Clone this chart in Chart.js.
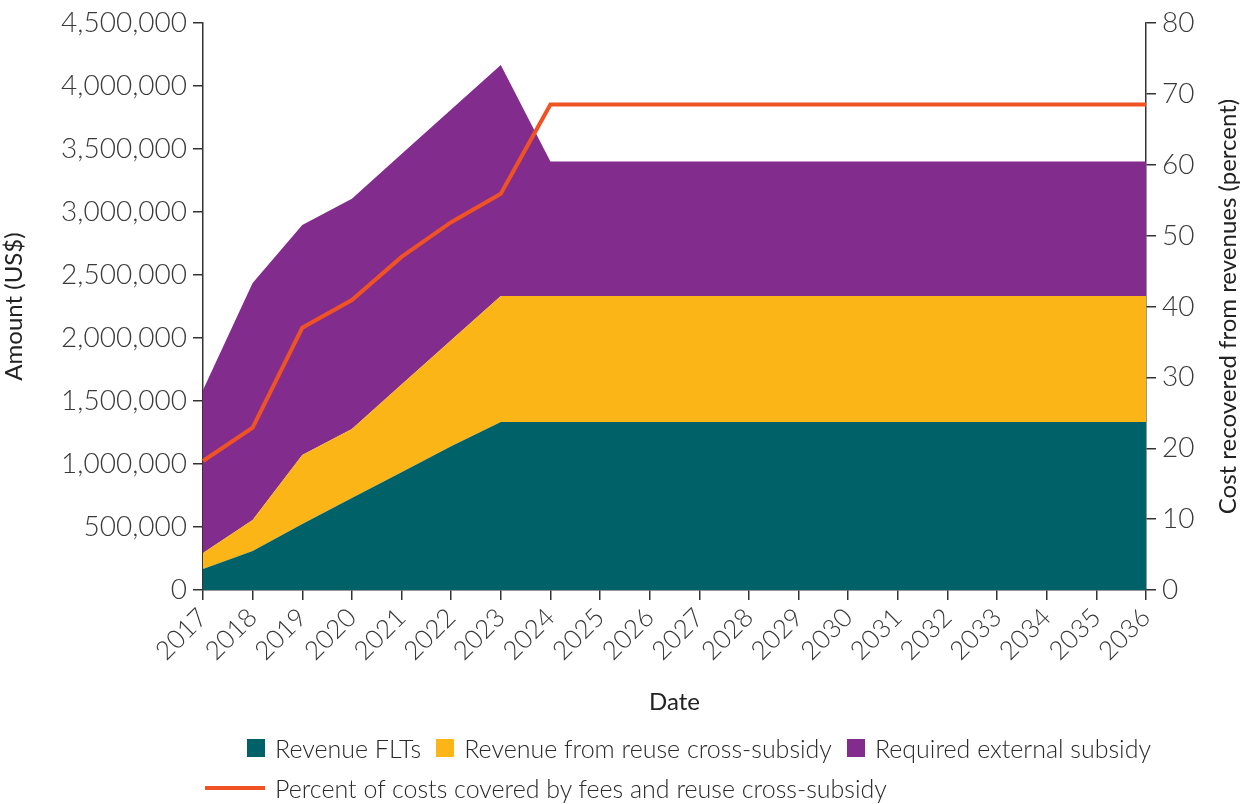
<!DOCTYPE html>
<html>
<head>
<meta charset="utf-8">
<script src="https://cdn.jsdelivr.net/npm/chart.js@4"></script>
<style>
  html, body { margin: 0; padding: 0; background: #fff; }
  #wrap { position: relative; width: 1246px; height: 804px; }
  #legend { position: absolute; left: 0; top: 725px; width: 1246px; font-family: Lato, sans-serif; font-weight: 300; font-size: 25px; color: #2a2a2a; }
  .row { position: absolute; display: flex; align-items: center; white-space: nowrap; }
  .item { display: flex; align-items: center; margin-right: 15px; }
  .box { width: 18px; height: 18px; margin-right: 10px; }
  .line { width: 60px; height: 4px; margin-right: 10px; }
</style>
</head>
<body>
<div id="wrap">
  <canvas id="chart" width="1246" height="804"></canvas>
  <div id="legend"></div>
</div>
<script>
// data
var years = ['2017', '2018', '2019', '2020', '2021', '2022', '2023', '2024', '2025', '2026',
             '2027', '2028', '2029', '2030', '2031', '2032', '2033', '2034', '2035', '2036'];
var revenueFLTs = [167000, 310000, 524000, 730000, 935000, 1140000, 1333000, 1333000, 1333000, 1333000,
                   1333000, 1333000, 1333000, 1333000, 1333000, 1333000, 1333000, 1333000, 1333000, 1333000];
var revenueReuse = [127000, 246000, 547000, 548000, 695000, 842000, 1000000, 1000000, 1000000, 1000000,
                    1000000, 1000000, 1000000, 1000000, 1000000, 1000000, 1000000, 1000000, 1000000, 1000000];
var externalSubsidy = [1293000, 1881000, 1826000, 1827000, 1830000, 1831000, 1834000, 1067000, 1067000, 1067000,
                       1067000, 1067000, 1067000, 1067000, 1067000, 1067000, 1067000, 1067000, 1067000, 1067000];
var percentCovered = [18.2, 22.9, 37.0, 40.9, 47.0, 51.9, 55.9, 68.5, 68.5, 68.5,
                      68.5, 68.5, 68.5, 68.5, 68.5, 68.5, 68.5, 68.5, 68.5, 68.5];
var amountTicks = [0, 500000, 1000000, 1500000, 2000000, 2500000, 3000000, 3500000, 4000000, 4500000];
var percentTicks = [0, 10, 20, 30, 40, 50, 60, 70, 80];

var seriesNames = ['Revenue FLTs', 'Revenue from reuse cross-subsidy', 'Required external subsidy',
                   'Percent of costs covered by fees and reuse cross-subsidy'];
var colors = ['#006168', '#fbb516', '#822c8e', '#f05323'];
var rightTitle = 'Cost recovered from revenues (percent)';

var axisColor = '#333333';
var textColor = '#3a3a3a';
var fontFamily = 'Lato, sans-serif';

function area(i, data, fill) {
  return {
    label: seriesNames[i],
    data: data,
    yAxisID: 'y',
    backgroundColor: colors[i],
    borderColor: colors[i],
    borderWidth: 0,
    pointRadius: 0,
    tension: 0,
    fill: fill,
    order: 1
  };
}

// right axis title reads bottom to top, like the left one
var rightTitlePlugin = {
  id: 'rightTitle',
  afterDraw: function(chart) {
    var ctx = chart.ctx, area = chart.chartArea;
    ctx.save();
    ctx.translate(1228, (area.top + area.bottom) / 2);
    ctx.rotate(-Math.PI / 2);
    ctx.font = '24px ' + fontFamily;
    ctx.fillStyle = '#222';
    ctx.textAlign = 'center';
    ctx.textBaseline = 'middle';
    ctx.fillText(rightTitle, 0, 0);
    ctx.restore();
  }
};

var chart = new Chart(document.getElementById('chart'), {
  type: 'line',
  data: {
    labels: years,
    datasets: [
      area(0, revenueFLTs, 'origin'),
      area(1, revenueReuse, '-1'),
      area(2, externalSubsidy, '-1'),
      {
        label: seriesNames[3],
        data: percentCovered,
        yAxisID: 'y1',
        borderColor: colors[3],
        borderWidth: 4,
        pointRadius: 0,
        tension: 0,
        fill: false,
        order: 0
      }
    ]
  },
  plugins: [rightTitlePlugin],
  options: {
    responsive: false,
    animation: false,
    layout: { padding: { top: 23, bottom: 79, left: 0, right: 0 } },
    plugins: { legend: { display: false }, tooltip: { enabled: false } },
    scales: {
      x: {
        grid: { drawOnChartArea: false, color: axisColor, tickLength: 10, lineWidth: 1.5 },
        border: { color: axisColor, width: 1.5 },
        ticks: { minRotation: 45, maxRotation: 45, autoSkip: false, color: textColor, padding: 2,
                 font: { family: fontFamily, size: 26, weight: 300 } },
        title: { display: true, text: 'Date', color: '#222', font: { family: fontFamily, size: 24 },
                 padding: { top: 0, bottom: 8 } },
        afterFit: function(s) { s.height = 135; }
      },
      y: {
        stacked: true,
        min: 0,
        max: 4500000,
        grid: { drawOnChartArea: false, color: axisColor, tickLength: 10, lineWidth: 1.5 },
        border: { color: axisColor, width: 1.5 },
        afterBuildTicks: function(s) { s.ticks = amountTicks.map(function(v) { return { value: v }; }); },
        ticks: { color: textColor, padding: 6, font: { family: fontFamily, size: 28, weight: 300 },
                 callback: function(v) { return v.toLocaleString('en-US'); } },
        title: { display: true, text: 'Amount (US$)', color: '#222', font: { family: fontFamily, size: 24 },
                 padding: { top: 0, bottom: 0 } },
        afterFit: function(s) { s.width = 203; }
      },
      y1: {
        position: 'right',
        min: 0,
        max: 80,
        grid: { drawOnChartArea: false, color: axisColor, tickLength: 10, lineWidth: 1.5 },
        border: { color: axisColor, width: 1.5 },
        afterBuildTicks: function(s) { s.ticks = percentTicks.map(function(v) { return { value: v }; }); },
        ticks: { color: textColor, padding: 6, font: { family: fontFamily, size: 28, weight: 300 } },
        afterFit: function(s) { s.width = 100; }
      }
    }
  }
});

// html legend, two rows as in the original
var legend = document.getElementById('legend');
var rows = [{ left: 247, top: 8, items: [0, 1, 2] }, { left: 205, top: 48, items: [3] }];
rows.forEach(function(r) {
  var row = document.createElement('div');
  row.className = 'row';
  row.style.left = r.left + 'px';
  row.style.top = r.top + 'px';
  r.items.forEach(function(i) {
    var item = document.createElement('div');
    item.className = 'item';
    var mark = document.createElement('span');
    mark.className = i < 3 ? 'box' : 'line';
    mark.style.background = colors[i];
    var txt = document.createElement('span');
    txt.textContent = seriesNames[i];
    item.appendChild(mark);
    item.appendChild(txt);
    row.appendChild(item);
  });
  legend.appendChild(row);
});
</script>
</body>
</html>
